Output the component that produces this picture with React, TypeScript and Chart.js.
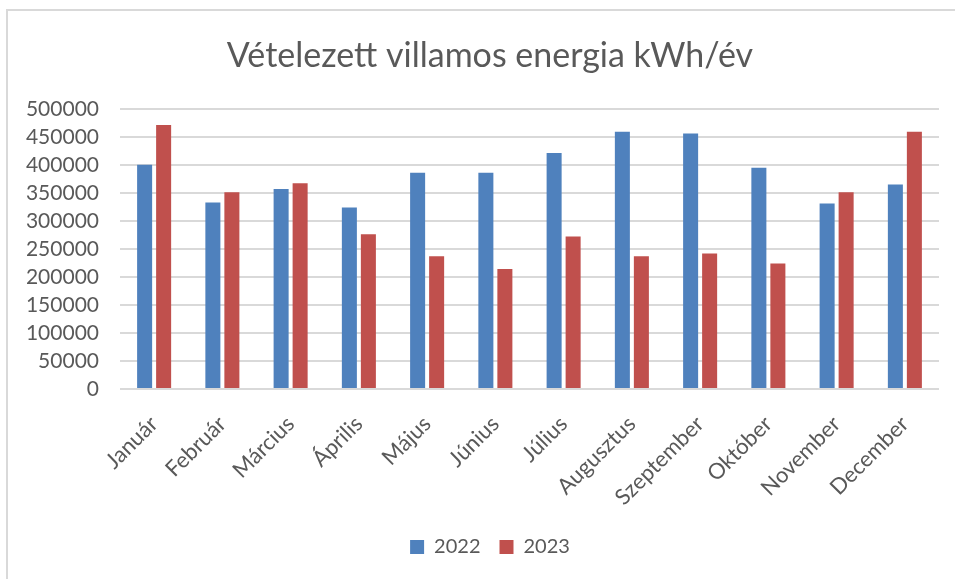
import React, { useEffect, useRef } from "react";
import { Chart, registerables } from "chart.js";

Chart.register(...registerables);

const TITLE = "Vételezett villamos energia kWh/év";
const MONTHS = [
  "Január", "Február", "Március", "Április", "Május", "Június",
  "Július", "Augusztus", "Szeptember", "Október", "November", "December",
];
const SERIES_NAMES = ["2022", "2023"];
const VALUES_2022 = [400000, 333000, 357000, 324000, 386000, 386000, 421000, 459000, 456000, 395000, 331000, 365000];
const VALUES_2023 = [471000, 351000, 367000, 276000, 237000, 214000, 272000, 237000, 242000, 224000, 351000, 459000];
const Y_MIN = 0;
const Y_MAX = 500000;
const Y_STEP = 50000;

const FONT = "Lato, 'Open Sans', sans-serif";
const TEXT = "#595959";

export default function App() {
  const ref = useRef<HTMLCanvasElement | null>(null);

  useEffect(() => {
    if (!ref.current) return;
    const chart = new Chart(ref.current, {
      type: "bar",
      data: {
        labels: MONTHS,
        datasets: [
          { label: SERIES_NAMES[0], data: VALUES_2022, backgroundColor: "#4F81BD", barPercentage: 0.79, categoryPercentage: 0.557 },
          { label: SERIES_NAMES[1], data: VALUES_2023, backgroundColor: "#C0504D", barPercentage: 0.79, categoryPercentage: 0.557 },
        ],
      },
      options: {
        animation: false,
        responsive: false,
        maintainAspectRatio: false,
        layout: { padding: { left: 0, right: 0, top: 0, bottom: 12 } },
        plugins: {
          title: {
            display: true,
            text: TITLE,
            color: TEXT,
            font: { family: FONT, size: 34, weight: "normal" },
            padding: { top: 25, bottom: 32 },
          },
          legend: {
            position: "bottom",
            labels: {
              color: TEXT,
              font: { family: FONT, size: 20 },
              boxWidth: 14,
              boxHeight: 14,
              padding: 19,
            },
          },
          tooltip: { enabled: false },
        },
        scales: {
          x: {
            grid: { display: false },
            border: { display: false },
            ticks: {
              color: TEXT,
              font: { family: FONT, size: 22 },
              minRotation: 45,
              maxRotation: 45,
              autoSkip: false,
              padding: 14,
            },
            afterFit: (s: any) => { s.height = 129; },
          },
          y: {
            min: Y_MIN,
            max: Y_MAX,
            grid: { color: "#d9d9d9", lineWidth: 2, drawTicks: false },
            border: { display: false },
            ticks: {
              stepSize: Y_STEP,
              autoSkip: false,
              color: TEXT,
              font: { family: FONT, size: 21 },
              padding: 21,
              callback: (v: any) => String(v),
            },
            afterFit: (s: any) => { s.width = 112; },
          },
          spacer: {
            type: "linear",
            position: "right",
            display: true,
            grid: { display: false },
            border: { display: false },
            ticks: { display: false },
            afterFit: (s: any) => { s.width = 33; },
          },
        },
      },
    });
    return () => chart.destroy();
  }, []);

  return (
    <div style={{ position: "fixed", left: 0, top: 0, width: 955, height: 579, overflow: "hidden", background: "#fff" }}>
      <div style={{ position: "absolute", left: 6, top: 9, width: 970, height: 570, borderLeft: "2px solid #d9d9d9", borderTop: "2px solid #d9d9d9" }}>
        <canvas ref={ref} width={964} height={568} style={{ display: "block", width: 964, height: 568 }} />
      </div>
    </div>
  );
}
